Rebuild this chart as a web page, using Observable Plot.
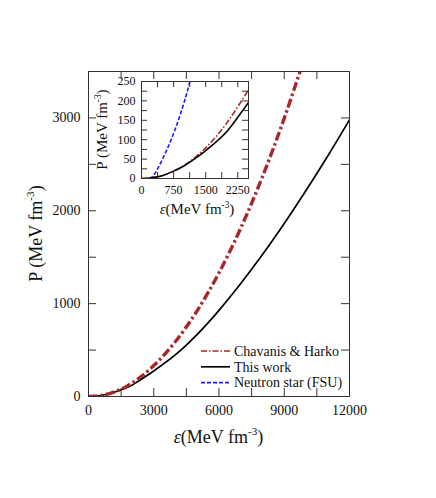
<!DOCTYPE html>
<html><head><meta charset="utf-8">
<script src="https://cdn.jsdelivr.net/npm/d3@7"></script>
<script src="https://cdn.jsdelivr.net/npm/@observablehq/plot@0.6"></script>
<style>
body{margin:0;background:#fff}
#chart{position:relative;width:436px;height:498px;background:#fff}
#chart svg{position:absolute;left:0;top:0}
</style>
</head><body><div id="chart"></div>
<script>
// ---- data ----
const epsThisWork = [0, 250, 500, 750, 1000, 1250, 1500, 1750, 2000, 2250, 2500, 3000, 4000, 5000, 6000, 7000, 8000, 9000, 10000, 11000, 12000];
const pThisWork   = [0, 2, 8, 19, 33, 51, 72, 95, 122, 158, 196, 275, 450, 670, 928, 1216, 1528, 1863, 2218, 2590, 2980];
const epsChavanis = [0, 250, 500, 750, 1000, 1250, 1500, 1750, 2000, 2250, 2500, 3000, 4000, 5000, 6000, 7000, 8000, 9000, 9800];
const pChavanis   = [0, 2, 8, 19, 34, 54, 79, 109, 144, 185, 229, 333, 592, 925, 1332, 1813, 2368, 2997, 3553];
const epsNeutron  = [190, 250, 300, 400, 500, 600, 700, 800, 900, 1000, 1100, 1200];
const pNeutron    = [0, 4, 11, 30, 52, 76, 102, 131, 163, 198, 237, 279];
const xTicksMain  = [0, 3000, 6000, 9000, 12000];
const yTicksMain  = [0, 1000, 2000, 3000];
const xTicksInset = [0, 750, 1500, 2250];
const yTicksInset = [0, 50, 100, 150, 200, 250];
const seriesNames = ["Chavanis & Harko", "This work", "Neutron star (FSU)"];

const thisWork = epsThisWork.map((e, i) => ({e, p: pThisWork[i]}));
const chavanis = epsChavanis.map((e, i) => ({e, p: pChavanis[i]}));
const neutron  = epsNeutron.map((e, i) => ({e, p: pNeutron[i]}));

const W = 436, H = 498;
const RED = "#a8282a", BLUE = "#1a1aff";
const FONT = "'Liberation Serif', 'DejaVu Serif', serif";

// ---- main plot ----
const mM = {top: 71, right: 87, bottom: 102, left: 88};
const mfw = W - mM.left - mM.right, mfh = H - mM.top - mM.bottom;
const tk = 8;
const main = Plot.plot({
  width: W, height: H,
  marginTop: mM.top, marginRight: mM.right, marginBottom: mM.bottom, marginLeft: mM.left,
  style: {fontFamily: FONT, background: "transparent", color: "#111"},
  x: {domain: [0, 12000]},
  y: {domain: [0, 3500]},
  marks: [
    Plot.line(thisWork, {x: "e", y: "p", stroke: "#000", strokeWidth: 1.7, curve: "monotone-x", clip: true}),
    Plot.line(chavanis, {x: "e", y: "p", stroke: RED, strokeWidth: 3.4, strokeDasharray: "9,3,2.5,3", strokeLinecap: "butt", curve: "monotone-x", clip: true}),
    Plot.tickX(d3.range(0, 12001, 1500), {x: d => d, insetTop: mfh - tk, stroke: "#333"}),
    Plot.tickX(d3.range(0, 12001, 1500), {x: d => d, insetBottom: mfh - tk, stroke: "#333"}),
    Plot.tickY(d3.range(0, 3501, 500), {y: d => d, insetRight: mfw - tk, stroke: "#333"}),
    Plot.tickY(d3.range(0, 3501, 500), {y: d => d, insetLeft: mfw - tk, stroke: "#333"}),
    Plot.frame({stroke: "#333", strokeWidth: 1}),
    Plot.axisX(xTicksMain, {tickSize: 0, tickPadding: 9, fontSize: 14, label: null, tickFormat: d => String(d)}),
    Plot.axisY(yTicksMain, {tickSize: 0, tickPadding: 8, fontSize: 14, label: null, tickFormat: d => String(d)})
  ]
});

// ---- inset plot ----
const iM = {top: 81, right: W - 248, bottom: H - 178, left: 141};
const ifw = W - iM.left - iM.right, ifh = H - iM.top - iM.bottom;
const itk = 6;
const inset = Plot.plot({
  width: W, height: H,
  marginTop: iM.top, marginRight: iM.right, marginBottom: iM.bottom, marginLeft: iM.left,
  style: {fontFamily: FONT, background: "transparent", color: "#111"},
  x: {domain: [0, 2500]},
  y: {domain: [0, 250]},
  marks: [
    Plot.frame({fill: "#fff"}),
    Plot.line(neutron, {x: "e", y: "p", stroke: BLUE, strokeWidth: 1.6, strokeDasharray: "4,2", strokeLinecap: "butt", curve: "monotone-x", clip: true}),
    Plot.line(chavanis, {x: "e", y: "p", stroke: RED, strokeWidth: 1.6, strokeDasharray: "6,2,1.5,2", strokeLinecap: "butt", curve: "monotone-x", clip: true}),
    Plot.line(thisWork, {x: "e", y: "p", stroke: "#000", strokeWidth: 1.6, curve: "monotone-x", clip: true}),
    Plot.tickX(d3.range(0, 2501, 375), {x: d => d, insetTop: ifh - itk, stroke: "#333"}),
    Plot.tickX(d3.range(0, 2501, 375), {x: d => d, insetBottom: ifh - itk, stroke: "#333"}),
    Plot.tickY(d3.range(0, 251, 25), {y: d => d, insetRight: ifw - itk, stroke: "#333"}),
    Plot.tickY(d3.range(0, 251, 25), {y: d => d, insetLeft: ifw - itk, stroke: "#333"}),
    Plot.frame({stroke: "#333", strokeWidth: 1}),
    Plot.axisX(xTicksInset, {tickSize: 0, tickPadding: 7, fontSize: 12, label: null, tickFormat: d => String(d)}),
    Plot.axisY(yTicksInset, {tickSize: 0, tickPadding: 6, fontSize: 12, label: null, tickFormat: d => String(d)})
  ]
});

const chart = document.getElementById("chart");
chart.append(main);
chart.append(inset);

// ---- axis titles ----
function unitLabel(g, fs, italicEps, prefix) {
  const t = g.append("text").attr("font-family", FONT).attr("font-size", fs).attr("fill", "#111").attr("text-anchor", "middle");
  if (italicEps) t.append("tspan").attr("font-style", "italic").text("ε");
  t.append("tspan").text(prefix);
  t.append("tspan").attr("font-size", fs * 0.62).attr("dy", -fs * 0.42).text("-3");
  t.append("tspan").attr("dy", fs * 0.42).text(")");
  return t;
}
const ms = d3.select(main);
unitLabel(ms.append("g").attr("transform", `translate(${mM.left + mfw / 2},443)`), 18, true, "(MeV fm");
unitLabel(ms.append("g").attr("transform", `translate(42,${mM.top + mfh / 2}) rotate(-90)`), 18, false, "P (MeV fm");

const is = d3.select(inset);
unitLabel(is.append("g").attr("transform", `translate(197,214)`), 15, true, "(MeV fm");
unitLabel(is.append("g").attr("transform", `translate(107,${iM.top + ifh / 2}) rotate(-90)`), 15, false, "P (MeV fm");

// ---- legend ----
const legendStyles = [
  {stroke: RED, dash: "6,2,1.5,2", w: 1.6},
  {stroke: "#000", dash: null, w: 1.7},
  {stroke: BLUE, dash: "4,2", w: 1.6}
];
const lg = ms.append("g").attr("font-family", FONT).attr("font-size", 14).attr("fill", "#111").attr("text-anchor", "start");
seriesNames.forEach((name, i) => {
  const y = 351 + i * 15.8;
  lg.append("line").attr("x1", 201).attr("x2", 230).attr("y1", y).attr("y2", y)
    .attr("stroke", legendStyles[i].stroke).attr("stroke-width", legendStyles[i].w)
    .attr("stroke-dasharray", legendStyles[i].dash);
  lg.append("text").attr("x", 234).attr("y", y + 4.8).attr("text-anchor", "start").text(name);
});
</script>
</body></html>
